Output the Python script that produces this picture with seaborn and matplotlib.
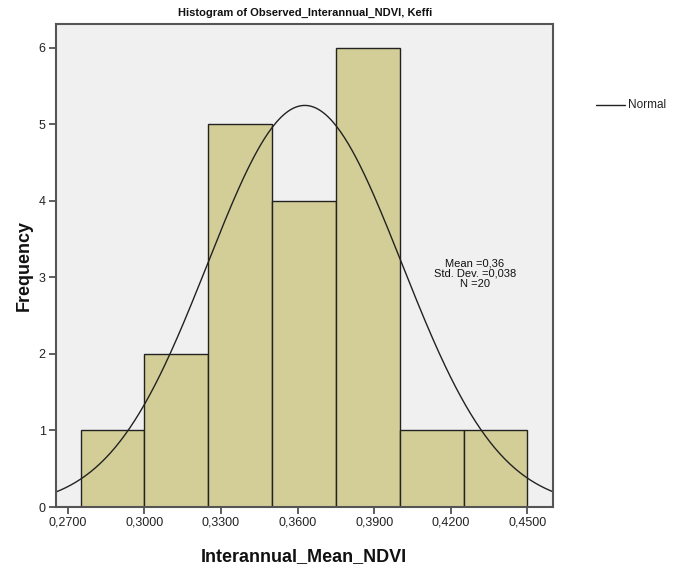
import numpy as np
import pandas as pd
import matplotlib
matplotlib.use("Agg")
import matplotlib.pyplot as plt
import seaborn as sns
from matplotlib.ticker import FuncFormatter

# ---- data ----
bin_edges = [0.275, 0.300, 0.325, 0.350, 0.375, 0.400, 0.425, 0.450]
bin_counts = [1, 2, 5, 4, 6, 1, 1]
mean_val = 0.3628
std_val = 0.038
n_obs = 20
x_ticks = [0.27, 0.30, 0.33, 0.36, 0.39, 0.42, 0.45]
y_ticks = [0, 1, 2, 3, 4, 5, 6]

centers = [(a + b) / 2 for a, b in zip(bin_edges[:-1], bin_edges[1:])]
df = pd.DataFrame({"value": centers, "count": bin_counts})

sns.set_style("white")
plt.rcParams['font.family'] = ['Liberation Sans', 'DejaVu Sans']

fig = plt.figure(figsize=(6.86, 5.69), dpi=100)
W, H = 686, 569
ax = fig.add_axes([55.5 / W, 1 - 507 / H, (552.5 - 55.5) / W, (507 - 23.5) / H])
ax.set_facecolor("#F0F0F0")

sns.histplot(data=df, x="value", weights="count", bins=bin_edges, ax=ax,
             color="#D3CE97", edgecolor="#222222", linewidth=1.0, alpha=1.0)

bw = bin_edges[1] - bin_edges[0]
xs = np.linspace(0.2652, 0.4598, 400)
ys = n_obs * bw * np.exp(-0.5 * ((xs - mean_val) / std_val) ** 2) / (std_val * np.sqrt(2 * np.pi))
sns.lineplot(x=xs, y=ys, ax=ax, color="#222222", linewidth=1.0)

ax.set_xlim(0.2652, 0.4598)
ax.set_ylim(0, 6.32)
ax.set_xticks(x_ticks)
ax.set_yticks(y_ticks)
ax.xaxis.set_major_formatter(FuncFormatter(lambda v, p: f"{v:.4f}".replace(".", ",")))
ax.tick_params(axis="both", direction="out", length=5, width=1.2, color="#444444",
               labelsize=9, labelcolor="#222222", bottom=True, left=True, pad=2)
for s in ax.spines.values():
    s.set_color("#555555")
    s.set_linewidth(1.5)

ax.set_xlabel("Interannual_Mean_NDVI", fontsize=13, fontweight="bold", labelpad=14,
              color="#111111")
ax.set_ylabel("Frequency", fontsize=13, fontweight="bold", labelpad=4, color="#111111")

fig.text(305 / W, 1 - 16 / H, "Histogram of Observed_Interannual_NDVI, Keffi",
         ha="center", va="baseline", fontsize=8, fontweight="bold", color="#111111")

mean_str = f"{mean_val:.2f}".replace(".", ",")
std_str = f"{std_val:.3f}".replace(".", ",")
stats_lines = [f"Mean ={mean_str}", f"Std. Dev. ={std_str}", f"N ={n_obs}"]
for i, t in enumerate(stats_lines):
    fig.text(475 / W, 1 - (263 + 10.5 * i) / H, t, ha="center", va="center",
             fontsize=8, color="#111111")

fig.lines.append(plt.Line2D([596 / W, 625 / W], [1 - 105.5 / H, 1 - 105.5 / H],
                            transform=fig.transFigure, color="#222222", linewidth=1.0))
fig.text(628 / W, 1 - 105.5 / H, "Normal", ha="left", va="center", fontsize=8.5,
         color="#222222")

fig.savefig("out.png", dpi=100, facecolor="white")
